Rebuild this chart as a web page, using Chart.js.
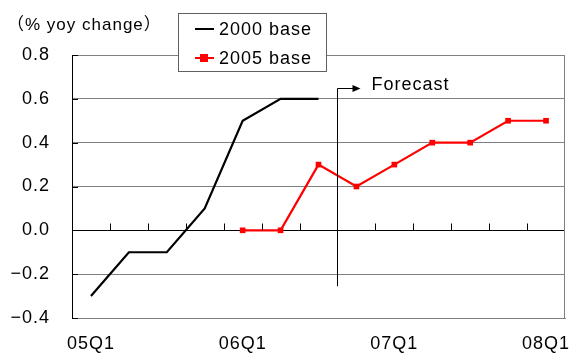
<!DOCTYPE html>
<html><head><meta charset="utf-8">
<script src="https://cdn.jsdelivr.net/npm/chart.js@4/dist/chart.umd.min.js"></script>
<style>html,body{margin:0;padding:0;background:#fff;}canvas{display:block;}</style>
</head><body>
<canvas id="c" width="569" height="354"></canvas>
<script>
const quarters = ['05Q1','05Q2','05Q3','05Q4','06Q1','06Q2','06Q3','06Q4','07Q1','07Q2','07Q3','07Q4','08Q1'];
const shownLabels = ['05Q1','06Q1','07Q1','08Q1'];
const base2000 = [-0.3,-0.1,-0.1,0.1,0.5,0.6,0.6,null,null,null,null,null,null];
const base2005 = [null,null,null,null,0.0,0.0,0.3,0.2,0.3,0.4,0.4,0.5,0.5];
const seriesNames = ['2000 base','2005 base'];
const yTicks = [-0.4,-0.2,0.0,0.2,0.4,0.6,0.8];
const unitLabel = '（% yoy change）';
const forecastLabel = 'Forecast';
const forecastAfter = '06Q3';
const forecastSpan = [0.65, -0.255];

const FONT = '"Liberation Sans", "Noto Sans CJK JP", sans-serif';
Chart.defaults.font.family = FONT;
Chart.defaults.color = '#000';

const spacing = {
  id: 'spacing',
  beforeDraw(chart) { chart.ctx.letterSpacing = '1px'; }
};

const extras = {
  id: 'extras',
  afterDatasetsDraw(chart) {
    const ctx = chart.ctx, a = chart.chartArea;
    const xs = chart.scales.x, ys = chart.scales.y;
    ctx.save();
    ctx.letterSpacing = '1px';
    // right border
    ctx.strokeStyle = '#808080'; ctx.lineWidth = 1;
    ctx.beginPath(); ctx.moveTo(a.right - 0.5, a.top); ctx.lineTo(a.right - 0.5, a.bottom); ctx.stroke();
    // category ticks on zero line
    const y0 = Math.round(ys.getPixelForValue(0)) + 0.5;
    ctx.strokeStyle = '#000';
    ctx.beginPath();
    for (let i = 0; i < quarters.length - 1; i++) {
      const x = Math.round(xs.getPixelForValue(i + 0.5)) + 0.5;
      ctx.moveTo(x, y0); ctx.lineTo(x, y0 - 7);
    }
    ctx.stroke();
    // y ticks inward
    ctx.beginPath();
    yTicks.forEach(v => {
      const y = Math.round(ys.getPixelForValue(v)) + 0.5;
      ctx.moveTo(a.left, y); ctx.lineTo(a.left + 6, y);
    });
    ctx.stroke();
    // forecast marker
    const fx = Math.round(xs.getPixelForValue(quarters.indexOf(forecastAfter) + 0.5)) + 0.5;
    const fy1 = Math.round(ys.getPixelForValue(forecastSpan[0])) + 0.5;
    const fy2 = ys.getPixelForValue(forecastSpan[1]);
    ctx.beginPath();
    ctx.moveTo(fx, fy2); ctx.lineTo(fx, fy1); ctx.lineTo(fx + 16, fy1);
    ctx.stroke();
    ctx.fillStyle = '#000';
    ctx.beginPath();
    ctx.moveTo(fx + 23, fy1); ctx.lineTo(fx + 15, fy1 - 3.5); ctx.lineTo(fx + 15, fy1 + 3.5); ctx.closePath();
    ctx.fill();
    ctx.font = '18px ' + FONT;
    ctx.textBaseline = 'middle'; ctx.textAlign = 'left';
    ctx.fillText(forecastLabel, fx + 34, fy1 - 3);
    // unit label
    ctx.font = '17px ' + FONT;
    ctx.fillText(unitLabel, 7, 25);
    // legend
    const lx = 178.5, ly = 13.5, lw = 148, lh = 58;
    ctx.fillStyle = '#fff';
    ctx.fillRect(lx, ly, lw, lh);
    ctx.strokeStyle = '#606060';
    ctx.strokeRect(lx, ly, lw, lh);
    const ds = chart.data.datasets;
    [29, 58].forEach((yy, i) => {
      ctx.strokeStyle = ds[i].borderColor; ctx.lineWidth = 2;
      ctx.beginPath(); ctx.moveTo(195, yy); ctx.lineTo(214, yy); ctx.stroke();
      if (i === 1) { ctx.fillStyle = ds[i].backgroundColor; ctx.fillRect(200, yy - 4, 8, 8); }
      ctx.fillStyle = '#000';
      ctx.font = '18px ' + FONT;
      ctx.fillText(seriesNames[i], 219, yy + 1);
    });
    ctx.restore();
  }
};

new Chart(document.getElementById('c'), {
  type: 'line',
  data: {
    labels: quarters,
    datasets: [
      { label: seriesNames[0], data: base2000, borderColor: '#000', backgroundColor: '#000', borderWidth: 2.2, pointRadius: 0, tension: 0, spanGaps: false },
      { label: seriesNames[1], data: base2005, borderColor: '#ff0000', backgroundColor: '#ff0000', borderWidth: 2.2, pointStyle: 'rect', pointRadius: 4, pointBorderWidth: 0, tension: 0 }
    ]
  },
  options: {
    responsive: false, animation: false, devicePixelRatio: 1,
    layout: { padding: { top: 55, right: 4, left: 0, bottom: 0 } },
    plugins: { legend: { display: false }, tooltip: { enabled: false } },
    scales: {
      x: {
        offset: true,
        grid: { display: false, drawTicks: false },
        border: { color: '#808080', width: 1 },
        ticks: { autoSkip: false, maxRotation: 0, padding: 15, font: { size: 18 },
          callback: function(v, i) { const l = quarters[i]; return shownLabels.includes(l) ? l : ''; } },
        afterFit(s) { s.height = 36; s.paddingLeft = 0; s.paddingRight = 0; }
      },
      y: {
        min: -0.4, max: 0.8,
        afterBuildTicks(s) { s.ticks = yTicks.map(v => ({ value: v })); },
        grid: { color: c => (c.tick && Math.abs(c.tick.value) < 1e-9) ? '#000' : '#808080', drawTicks: false, lineWidth: 1 },
        border: { color: '#000', width: 1 },
        ticks: { padding: 22, font: { size: 18 },
          callback: v => (v < 0 ? '\u2212' : '') + Math.abs(v).toFixed(1) },
        afterFit(s) { s.width = 72; s.paddingTop = 0; s.paddingBottom = 0; }
      }
    }
  },
  plugins: [spacing, extras]
});
</script>
</body></html>
